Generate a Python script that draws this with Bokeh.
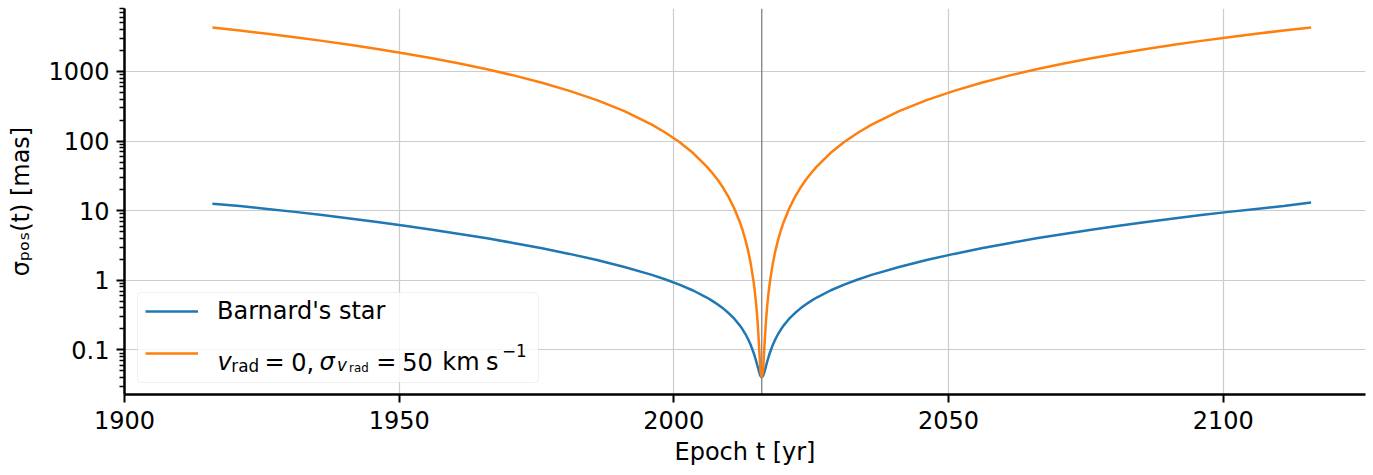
from bokeh.plotting import figure
from bokeh.models import (Range1d, FixedTicker, CustomJSTickFormatter, Span, Label,
                          Legend, LegendItem, BoxAnnotation, ColumnDataSource)
from bokeh.embed import file_html
from bokeh.resources import INLINE

# ---------------- data ----------------
REF_EPOCH = 2016.0

epoch = [1916, 1921, 1926, 1931, 1936, 1941, 1946, 1951, 1956, 1961,
         1966, 1971, 1976, 1981, 1986, 1991, 1996, 1998.5, 2001, 2003.5,
         2006, 2007, 2008, 2009, 2010, 2011, 2012, 2012.5, 2013, 2013.5,
         2014, 2014.5, 2014.75, 2015, 2015.25, 2015.5, 2015.75, 2016,
         2016.25, 2016.5, 2016.75, 2017, 2017.25, 2017.5, 2018, 2018.5, 2019, 2019.5,
         2020, 2021, 2022, 2023, 2024, 2025, 2026, 2028.5, 2031, 2033.5,
         2036, 2041, 2046, 2051, 2056, 2061, 2066, 2071, 2076, 2081,
         2086, 2091, 2096, 2101, 2106, 2111, 2116]

sigma_barnard = [12.6, 11.7, 10.6, 9.6, 8.63, 7.72, 6.87, 6.07, 5.32, 4.63,
                 4.0, 3.41, 2.88, 2.39, 1.95, 1.55, 1.194, 1.026, 0.866, 0.712,
                 0.564, 0.505, 0.448, 0.391, 0.335, 0.280, 0.2245, 0.197, 0.170, 0.143,
                 0.117, 0.0917, 0.0795, 0.068, 0.0575, 0.0485, 0.0423, 0.040,
                 0.0423, 0.0485, 0.0575, 0.068, 0.0795, 0.0917, 0.117, 0.143, 0.170, 0.197,
                 0.2245, 0.280, 0.335, 0.391, 0.448, 0.505, 0.564, 0.712, 0.866, 1.026,
                 1.194, 1.55, 1.95, 2.39, 2.88, 3.41, 4.0, 4.63, 5.32, 6.07,
                 6.87, 7.72, 8.63, 9.6, 10.6, 11.7, 13.1]

sigma_vrad50 = [4300, 3881, 3483, 3107, 2752, 2419, 2107, 1817, 1548, 1301,
                1075, 871, 688, 527, 387, 269, 172, 131.7, 96.8, 67.2,
                43.0, 34.8, 27.5, 21.1, 15.5, 10.75, 6.88, 5.27, 3.87, 2.69,
                1.72, 0.97, 0.677, 0.435, 0.249, 0.118, 0.050, 0.040,
                0.050, 0.118, 0.249, 0.435, 0.677, 0.97, 1.72, 2.69, 3.87, 5.27,
                6.88, 10.75, 15.5, 21.1, 27.5, 34.8, 43.0, 67.2, 96.8, 131.7,
                172, 269, 387, 527, 688, 871, 1075, 1301, 1548, 1817,
                2107, 2419, 2752, 3107, 3483, 3881, 4300]

x_ticks = [1900, 1950, 2000, 2050, 2100]
y_ticks = [0.1, 1, 10, 100, 1000]
y_minor_ticks = [m * 10.0 ** k for k in range(-2, 4) for m in range(2, 10)]

X_RANGE = (1900, 2125.9)
Y_RANGE = (0.0228, 8035)

X_TITLE = "Epoch t [yr]"
Y_TITLE = "σₚₒₛ(t) [mas]"

# ---------------- layout constants ----------------
FL, FB = 124, 394          # frame left / bottom in canvas px
FONT = "DejaVu Sans"

src = ColumnDataSource(dict(epoch=epoch, barnard=sigma_barnard, vrad=sigma_vrad50))

p = figure(width=1373, height=475, output_backend="svg", toolbar_location=None,
           y_axis_type="log", x_range=Range1d(*X_RANGE), y_range=Range1d(*Y_RANGE),
           min_border_left=124, min_border_right=8, min_border_top=8, min_border_bottom=81)
p.outline_line_color = None
p.background_fill_color = "white"
p.border_fill_color = "white"

# grid
for g in (p.xgrid[0], p.ygrid[0]):
    g.grid_line_color = "#cccccc"
    g.grid_line_width = 1.2

# axes
p.xaxis.ticker = FixedTicker(ticks=x_ticks)
p.yaxis.ticker = FixedTicker(ticks=y_ticks, minor_ticks=y_minor_ticks)
p.yaxis.formatter = CustomJSTickFormatter(code="return tick.toString();")
for ax in (p.xaxis[0], p.yaxis[0]):
    ax.axis_line_width = 2.5
    ax.axis_line_color = "black"
    ax.major_tick_line_width = 2
    ax.major_tick_line_color = "black"
    ax.major_tick_out = 8
    ax.major_tick_in = 0
    ax.minor_tick_out = 5
    ax.minor_tick_in = 0
    ax.minor_tick_line_width = 1.5
    ax.minor_tick_line_color = "black"
    ax.major_label_text_font = FONT
    ax.major_label_text_font_size = "24px"
    ax.major_label_text_color = "black"
    ax.axis_label_text_font = FONT
    ax.axis_label_text_font_size = "24px"
    ax.axis_label_text_font_style = "normal"
    ax.axis_label_text_color = "black"
p.xaxis.minor_tick_line_color = None
p.xaxis.major_label_standoff = 8
p.yaxis.major_label_standoff = 7
p.xaxis.axis_label = X_TITLE
p.yaxis.axis_label = Y_TITLE
p.xaxis.axis_label_standoff = 6
p.yaxis.axis_label_standoff = 10

# reference epoch line
p.add_layout(Span(location=REF_EPOCH, dimension="height", line_color="#808080",
                  line_width=1.3, level="underlay"))

r1 = p.line(x="epoch", y="barnard", source=src, line_color="#1f77b4", line_width=2.5)
r2 = p.line(x="epoch", y="vrad", source=src, line_color="#ff7f0e", line_width=2.5)

# legend frame
box = BoxAnnotation(left=137 - FL, right=538 - FL, top=FB - 292, bottom=FB - 382,
                    left_units="screen", right_units="screen",
                    top_units="screen", bottom_units="screen",
                    fill_color="white", fill_alpha=0.8, line_color="#cccccc",
                    line_width=1, border_radius=4)
p.add_layout(box)

legend = Legend(items=[LegendItem(label="Barnard's star", renderers=[r1]),
                       LegendItem(label=" ", renderers=[r2])],
                location=(21, 27), padding=0, margin=0, spacing=14,
                glyph_height=28, glyph_width=53, label_height=28, label_standoff=19,
                background_fill_alpha=0, border_line_color=None,
                label_text_font=FONT, label_text_font_size="24px",
                label_text_color="black")
p.add_layout(legend, "center")


def put(text, X, Y, size, italic=False):
    p.add_layout(Label(x=X - FL, y=FB - Y, x_units="screen", y_units="screen",
                       text=text, text_font=FONT,
                       text_font_style="italic" if italic else "normal",
                       text_font_size=f"{size}px", text_color="black",
                       text_baseline="alphabetic", text_align="left"))


# orange legend label: v_rad = 0, sigma_{v_rad} = 50 km s^-1
BL = 361.7
put("v", 217, BL, 24, True)
put("rad", 230.8, 365.0, 16.8)
put("=", 264, BL, 24)
put("0,", 290.7, BL, 24)
put("σ", 319, BL, 24, True)
put("v", 336.5, 364.3, 16.8, True)
put("rad", 348.6, 367.3, 11.8)
put("=", 375.7, BL, 24)
put("50", 401.7, BL, 24)
put("km", 441.8, BL, 24)
put("s", 485.4, BL, 24)
put("−1", 501.5, 350.0, 16.8)

open("out.html", "w").write(file_html(p, INLINE))
